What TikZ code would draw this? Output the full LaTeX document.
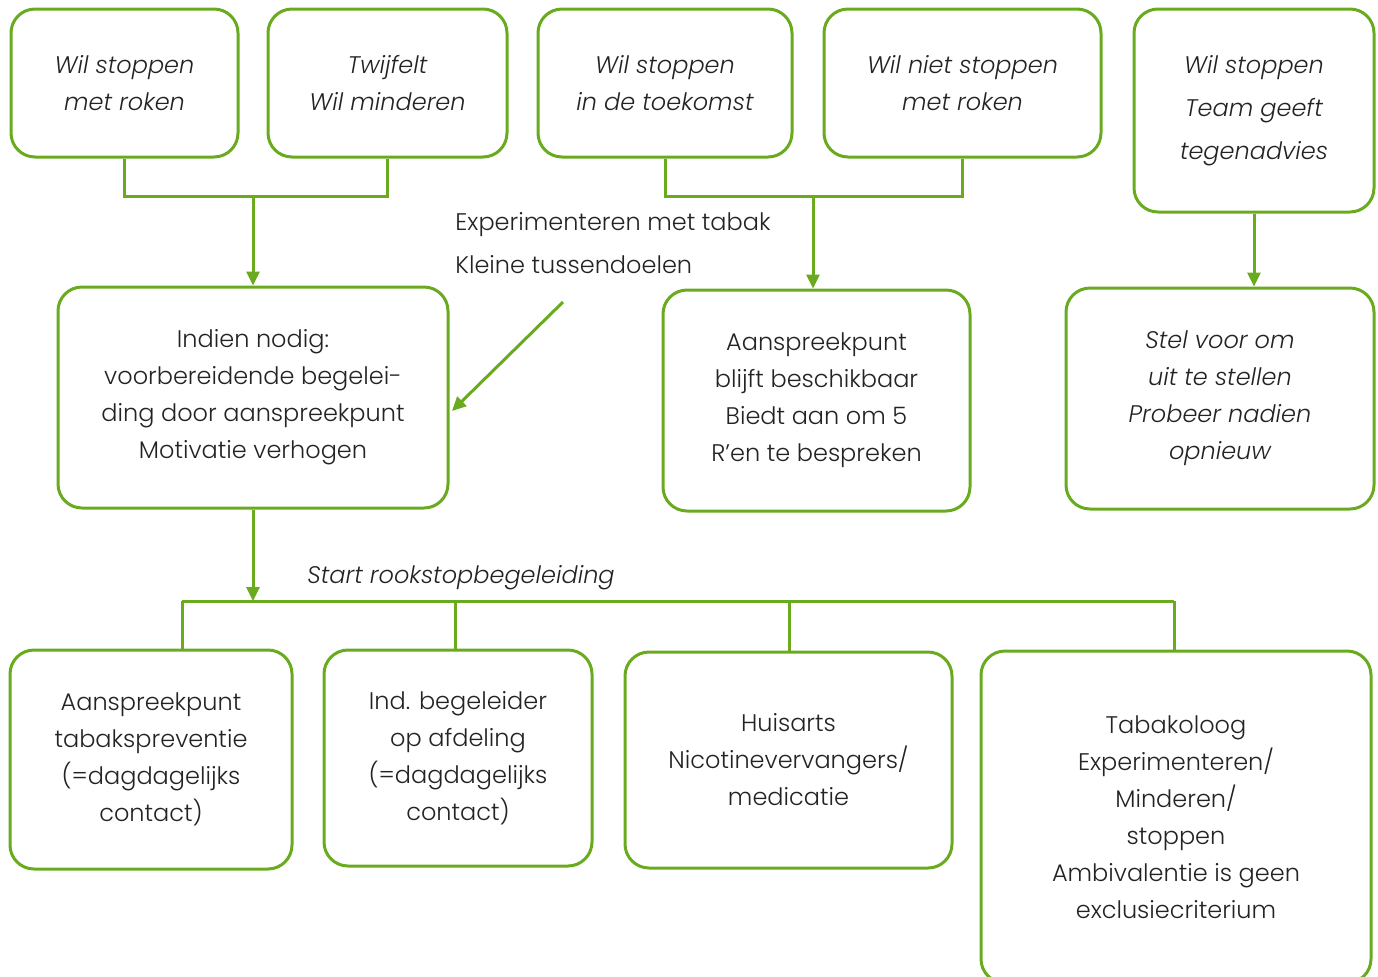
\documentclass[tikz,border=0pt]{standalone}
\usepackage{fontspec}
\setmainfont{Poppins}[UprightFont={* Light},ItalicFont={* Light Italic}]
\usetikzlibrary{arrows.meta}
\definecolor{kgreen}{RGB}{106,170,30}
\definecolor{ktext}{RGB}{35,35,35}

\tikzset{
  box/.style={draw=kgreen, line width=1.5pt, rounded corners=12pt, align=center,
    text=ktext, font=\fontsize{12}{18.5}\selectfont},
  ibox/.style={box, font=\fontsize{12}{18.5}\selectfont\itshape},
  link/.style={draw=kgreen, line width=1.5pt},
  arr/.style={link, -{Triangle[width=6.5pt,length=7pt]}},
}

\begin{document}
\begin{tikzpicture}[x=0.5pt,y=-0.5pt]
	\useasboundingbox (0,0) rectangle (1378,976);
	% top row
	\node[ibox, minimum width=113.5pt, minimum height=74pt] (A) at (124.5,83) {Wil stoppen\\met roken};
	\node[ibox, minimum width=119.5pt, minimum height=74pt] (B) at (387.5,83) {Twijfelt\\Wil minderen};
	\node[ibox, minimum width=127pt, minimum height=74pt] (C) at (665,83) {Wil stoppen\\in de toekomst};
	\node[ibox, minimum width=138.5pt, minimum height=74pt] (D) at (962.5,83) {Wil niet stoppen\\met roken};
	\node[ibox, font=\fontsize{12}{21.5}\selectfont\itshape, minimum width=120pt, minimum height=101.5pt] (E) at (1254,110.5) {Wil stoppen\\Team geeft\\tegenadvies};
	% middle row
	\node[box, minimum width=195pt, minimum height=110.5pt] (F) at (253,397.5) {Indien nodig:\\voorbereidende begelei-\\ding door aanspreekpunt\\Motivatie verhogen};
	\node[box, minimum width=153.5pt, minimum height=110.5pt] (G) at (816.5,400.5) {Aanspreekpunt\\blijft beschikbaar\\Biedt aan om 5\\R'en te bespreken};
	\node[ibox, minimum width=154pt, minimum height=110.5pt] (H) at (1220,398.5) {Stel voor om\\uit te stellen\\Probeer nadien\\opnieuw};
	% side note
	\node[anchor=west, inner sep=0pt, align=left, text=ktext, font=\fontsize{12}{21.5}\selectfont] (note) at (455,243.5) {Experimenteren met tabak\\Kleine tussendoelen};
	\coordinate (notetip) at (563,302);
	% bottom row
	\node[box, minimum width=141pt, minimum height=109.5pt] (I) at (151,759.5) {Aanspreekpunt\\tabakspreventie\\(=dagdagelijks\\contact)};
	\node[box, minimum width=134pt, minimum height=108pt] (J) at (458,758) {Ind. begeleider\\op afdeling\\(=dagdagelijks\\contact)};
	\node[box, minimum width=163.5pt, minimum height=108pt] (K) at (788.5,760) {Huisarts\\Nicotinevervangers/\\medicatie};
	\node[box, minimum width=195pt, minimum height=166pt] (L) at (1176,817) {Tabakoloog\\Experimenteren/\\Minderen/\\stoppen\\Ambivalentie is geen\\exclusiecriterium};
	\node[text=ktext, font=\fontsize{12}{14}\selectfont\itshape] (start) at (461,578) {Start rookstopbegeleiding};
	% connectors
	\coordinate (ab) at (253,195);
	\coordinate (cd) at (813,195);
	\draw[link] (A.south) -- ++(0,38) -| (B.south);
	\draw[link] (C.south) -- ++(0,38) -| (D.south);
	\draw[arr] (ab) -- (ab |- F.north);
	\draw[arr] (cd) -- (cd |- G.north);
	\draw[arr] (E.south) -- (E.south |- H.north);
	\draw[arr] (notetip) -- (452,411);
	\coordinate (bus) at (253,601);
	\draw[arr] (F.south) -- (bus);
	\draw[link] (182,601) -- (1174,601);
	\foreach \n/\x in {I/182, J/455, K/789, L/1174} {
		\draw[link] (\x,601) -- (\x,601 |- \n.north);
	}
\end{tikzpicture}
\end{document}
